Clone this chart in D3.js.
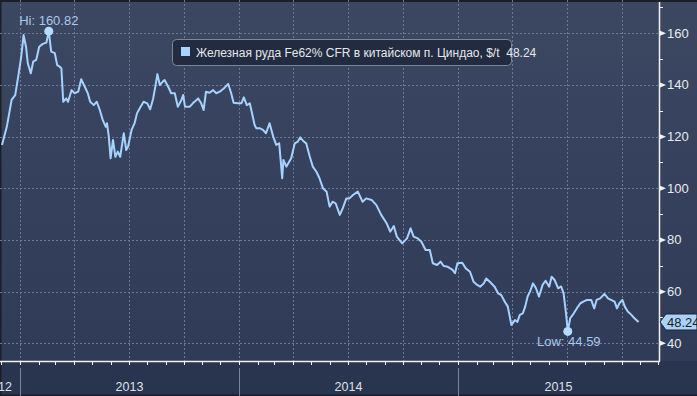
<!DOCTYPE html>
<html>
<head>
<meta charset="utf-8">
<script src="https://cdn.jsdelivr.net/npm/d3@7"></script>
<style>
  html, body { margin: 0; padding: 0; background: #1b1f28; }
  #chart { width: 697px; height: 396px; }
  text { font-family: "Liberation Sans", Arial, sans-serif; }
</style>
</head>
<body>
<div id="chart"></div>
<script>
// iron ore Fe62% CFR Qingdao, $/t
var dates = ["2012-12-02","2012-12-10","2012-12-18","2012-12-24","2012-12-29","2013-01-03","2013-01-07","2013-01-11","2013-01-14","2013-01-19",
  "2013-01-23","2013-01-28","2013-02-02","2013-02-08","2013-02-14","2013-02-18","2013-02-22","2013-02-28","2013-03-04","2013-03-08",
  "2013-03-11","2013-03-14","2013-03-19","2013-03-22","2013-03-28","2013-04-02","2013-04-08","2013-04-13","2013-04-19","2013-04-24",
  "2013-04-28","2013-05-04","2013-05-09","2013-05-14","2013-05-19","2013-05-24","2013-05-26","2013-05-29","2013-06-01","2013-06-05",
  "2013-06-09","2013-06-13","2013-06-17","2013-06-23","2013-06-27","2013-06-30","2013-07-06","2013-07-11","2013-07-15","2013-07-21",
  "2013-07-26","2013-08-01","2013-08-06","2013-08-11","2013-08-15","2013-08-18","2013-08-22","2013-08-27","2013-08-30","2013-09-05",
  "2013-09-10","2013-09-16","2013-09-21","2013-09-27","2013-09-30","2013-10-03","2013-10-11","2013-10-16","2013-10-25","2013-10-30",
  "2013-11-03","2013-11-07","2013-11-13","2013-11-19","2013-11-24","2013-11-30","2013-12-07","2013-12-14","2013-12-19","2013-12-23",
  "2013-12-30","2014-01-05","2014-01-09","2014-01-14","2014-01-19","2014-01-24","2014-01-27","2014-01-30","2014-02-05","2014-02-10",
  "2014-02-15","2014-02-21","2014-02-27","2014-03-04","2014-03-09","2014-03-14","2014-03-16","2014-03-21","2014-03-29","2014-04-04",
  "2014-04-09","2014-04-13","2014-04-19","2014-04-23","2014-04-29","2014-05-04","2014-05-10","2014-05-15","2014-05-21","2014-05-27",
  "2014-06-01","2014-06-06","2014-06-11","2014-06-18","2014-06-23","2014-06-29","2014-07-04","2014-07-10","2014-07-18","2014-07-26",
  "2014-08-01","2014-08-10","2014-08-18","2014-08-26","2014-09-04","2014-09-10","2014-09-16","2014-09-21","2014-09-30","2014-10-08",
  "2014-10-14","2014-10-19","2014-10-26","2014-11-01","2014-11-08","2014-11-15","2014-11-20","2014-11-27","2014-12-03","2014-12-08",
  "2014-12-15","2014-12-23","2014-12-27","2014-12-31","2015-01-08","2015-01-14","2015-01-21","2015-01-27","2015-02-02","2015-02-07",
  "2015-02-13","2015-02-17","2015-02-23","2015-03-03","2015-03-09","2015-03-14","2015-03-20","2015-03-25","2015-03-31","2015-04-06",
  "2015-04-10","2015-04-14","2015-04-19","2015-04-23","2015-04-27","2015-05-01","2015-05-06","2015-05-11","2015-05-16","2015-05-22",
  "2015-05-27","2015-06-02","2015-06-06","2015-06-11","2015-06-17","2015-06-22","2015-06-26","2015-06-30","2015-07-03","2015-07-07",
  "2015-07-13","2015-07-18","2015-07-24","2015-07-29","2015-08-04","2015-08-11","2015-08-16","2015-08-20","2015-08-26","2015-09-02",
  "2015-09-08","2015-09-13","2015-09-19","2015-09-23","2015-09-27","2015-10-02","2015-10-06","2015-10-11","2015-10-17","2015-10-22",
  "2015-10-29"];
var prices = [116.8,123.8,134.2,136.1,143.2,150.9,159.3,154.8,148.4,144.5,
  149.0,149.7,154.8,155.9,156.4,160.82,152.9,152.3,147.7,147.1,
  146.5,133.5,134.8,133.5,138.0,136.8,137.4,142.2,139.3,136.8,
  133.5,132.2,133.5,130.3,126.4,123.8,125.2,120.0,111.6,118.7,
  112.2,114.2,112.2,121.3,114.8,116.1,122.6,125.2,129.0,131.6,
  133.5,132.9,130.6,134.8,140.0,144.2,140.0,141.3,141.9,139.3,
  136.8,136.8,131.6,134.2,136.1,131.6,131.6,132.9,134.8,132.9,
  130.3,137.4,137.0,138.0,136.8,137.4,138.7,140.4,136.8,133.1,
  132.9,132.9,135.2,132.2,132.9,127.7,124.5,123.2,123.2,122.6,
  121.3,125.2,120.0,116.8,117.4,103.9,111.0,108.4,111.6,117.4,
  118.1,119.7,118.1,117.4,112.2,108.4,106.4,104.0,100.0,98.7,
  92.9,94.8,94.2,89.7,92.3,96.1,96.1,97.4,98.7,94.8,
  96.1,95.5,93.5,89.7,86.5,83.2,85.4,81.3,78.7,80.6,
  84.5,81.3,80.6,79.3,76.1,76.1,71.0,70.3,71.6,69.9,
  69.6,68.4,67.1,71.0,71.2,69.0,67.7,63.8,62.6,61.9,
  63.2,65.1,63.8,61.9,59.3,58.7,56.1,54.2,47.1,49.0,
  48.3,51.0,51.6,54.2,58.1,60.0,63.2,61.3,58.1,62.6,
  64.2,61.9,65.8,64.5,61.3,62.0,59.3,51.6,44.59,49.7,
  51.6,53.5,55.5,56.1,56.8,56.8,53.5,56.8,57.4,59.1,
  57.4,56.8,56.1,53.5,55.5,56.8,54.2,52.3,51.0,49.7,
  48.24];
var yTicks = [40, 60, 80, 100, 120, 140, 160];
var yMinorTicks = [50, 70, 90, 110, 130, 150, 170];
var years = ["2012", "2013", "2014", "2015"];
var seriesName = "Железная руда Fe62% CFR в китайском п. Циндао, $/t";
var lastValue = "48.24";
var hiLabel = "Hi: 160.82";
var lowLabel = "Low: 44.59";

var width = 697, height = 396;
var axisX = 659, axisY = 361;

var parse = d3.timeParse("%Y-%m-%d");
var data = dates.map(function(d, i) { return {date: parse(d), value: prices[i]}; });

var x = d3.scaleTime()
  .domain([parse("2013-01-01"), parse("2015-01-01")])
  .range([20, 458]);
var y = d3.scaleLinear()
  .domain([40, 160])
  .range([343.3, 33.3]);

var svg = d3.select("#chart").append("svg")
  .attr("width", width)
  .attr("height", height);

var defs = svg.append("defs");
var grad = defs.append("linearGradient")
  .attr("id", "bg").attr("x1", 0).attr("y1", 0).attr("x2", 0).attr("y2", 1);
grad.append("stop").attr("offset", "0%").attr("stop-color", "#3c4762");
grad.append("stop").attr("offset", "100%").attr("stop-color", "#2f3b57");
defs.append("clipPath").attr("id", "plotclip")
  .append("rect").attr("x", 0).attr("y", 0).attr("width", axisX).attr("height", axisY);

// background
svg.append("rect")
  .attr("width", width).attr("height", height)
  .style("fill", "#29344f");
svg.append("rect")
  .attr("x", 0).attr("y", 0)
  .attr("width", width).attr("height", axisY)
  .style("fill", "url(#bg)");
// thin dark frame on top / left
svg.append("rect").attr("x", 0).attr("y", 0).attr("width", width).attr("height", 2).style("fill", "#1c1f26");
svg.append("rect").attr("x", 0).attr("y", 0).attr("width", 1.5).attr("height", height).style("fill", "#1c1f26");
svg.append("rect").attr("x", 0).attr("y", height - 1.5).attr("width", width).attr("height", 1.5).style("fill", "#1c1f26");

// grid
var grid = svg.append("g").attr("clip-path", "url(#plotclip)");
grid.selectAll("line.h")
  .data(yTicks)
  .enter().append("line")
  .attr("x1", 0).attr("x2", axisX)
  .attr("y1", function(d) { return Math.round(y(d)) + 0.5; })
  .attr("y2", function(d) { return Math.round(y(d)) + 0.5; })
  .style("stroke", "#6d7893")
  .style("stroke-width", 1)
  .style("stroke-dasharray", "2,2");

var quarters = d3.timeMonth.every(3).range(x.invert(0), x.invert(axisX));
grid.selectAll("line.v")
  .data(quarters)
  .enter().append("line")
  .attr("x1", function(d) { return Math.round(x(d)) + 0.5; })
  .attr("x2", function(d) { return Math.round(x(d)) + 0.5; })
  .attr("y1", 0).attr("y2", axisY)
  .style("stroke", "#6d7893")
  .style("stroke-width", 1)
  .style("stroke-dasharray", "2,2");

// legend box
svg.append("rect")
  .attr("x", 172.5).attr("y", 39.5)
  .attr("width", 339).attr("height", 26)
  .attr("rx", 4)
  .style("fill", "#222b3f")
  .style("stroke", "#7c8799")
  .style("stroke-width", 1);
svg.append("rect")
  .attr("x", 181).attr("y", 47)
  .attr("width", 9).attr("height", 9)
  .style("fill", "#a9d3ff");
svg.append("text")
  .attr("x", 196).attr("y", 56.5)
  .text(seriesName + "  " + lastValue)
  .style("font-size", "12px")
  .style("fill", "#e6e8ec")
  .style("white-space", "pre");

// price line
var line = d3.line()
  .x(function(d) { return x(d.date); })
  .y(function(d) { return y(d.value); });
svg.append("path")
  .datum(data)
  .attr("clip-path", "url(#plotclip)")
  .attr("d", line)
  .style("fill", "none")
  .style("stroke", "#a6d2ff")
  .style("stroke-width", 2)
  .style("stroke-linejoin", "round");

// hi / low markers
var hi = data[d3.maxIndex(data, function(d) { return d.value; })];
var lo = data[d3.minIndex(data, function(d) { return d.value; })];
svg.append("circle")
  .attr("cx", x(hi.date)).attr("cy", y(hi.value)).attr("r", 4.5)
  .style("fill", "#b5dbff");
svg.append("text")
  .attr("x", x(hi.date)).attr("y", y(hi.value) - 6)
  .attr("text-anchor", "middle")
  .text(hiLabel)
  .style("font-size", "13px")
  .style("fill", "#a9c9ea");
svg.append("circle")
  .attr("cx", x(lo.date)).attr("cy", y(lo.value)).attr("r", 4.5)
  .style("fill", "#b5dbff");
svg.append("text")
  .attr("x", x(lo.date) + 1).attr("y", y(lo.value) + 15)
  .attr("text-anchor", "middle")
  .text(lowLabel)
  .style("font-size", "13px")
  .style("fill", "#a9c9ea");

// right axis
svg.append("line")
  .attr("x1", axisX + 0.5).attr("x2", axisX + 0.5)
  .attr("y1", 2).attr("y2", axisY + 0.5)
  .style("stroke", "#f2f2f2").style("stroke-width", 1.5);
svg.selectAll("line.minor")
  .data(yMinorTicks)
  .enter().append("line")
  .attr("x1", axisX).attr("x2", axisX + 4)
  .attr("y1", function(d) { return Math.round(y(d)) + 0.5; })
  .attr("y2", function(d) { return Math.round(y(d)) + 0.5; })
  .style("stroke", "#f2f2f2").style("stroke-width", 1);
svg.selectAll("polygon.major")
  .data(yTicks)
  .enter().append("polygon")
  .attr("points", function(d) {
    var yy = y(d);
    return axisX + "," + (yy - 3) + " " + (axisX + 7) + "," + yy + " " + axisX + "," + (yy + 3);
  })
  .style("fill", "#f2f2f2");
svg.selectAll("text.ylab")
  .data(yTicks)
  .enter().append("text")
  .attr("x", axisX + 8)
  .attr("y", function(d) { return y(d) + 4.5; })
  .text(function(d) { return d; })
  .style("font-size", "13px")
  .style("fill", "#e9ebef");

// last value tag
var ly = y(prices[prices.length - 1]);
svg.append("polygon")
  .attr("points", (axisX + 1) + "," + ly + " " + (axisX + 7) + "," + (ly - 8) + " " + width + "," + (ly - 8) + " " +
    width + "," + (ly + 8) + " " + (axisX + 7) + "," + (ly + 8))
  .style("fill", "#a9d3fb")
  .style("stroke", "#1d2434")
  .style("stroke-width", 1);
svg.append("text")
  .attr("x", axisX + 8).attr("y", ly + 4.5)
  .text(lastValue)
  .style("font-size", "13px")
  .style("fill", "#1a1d24");

// bottom axis
svg.append("line")
  .attr("x1", 0).attr("x2", axisX + 1)
  .attr("y1", axisY + 0.5).attr("y2", axisY + 0.5)
  .style("stroke", "#f2f2f2").style("stroke-width", 1.5);
var months = d3.timeMonth.range(x.invert(0), x.invert(axisX));
svg.selectAll("line.mtick")
  .data(months)
  .enter().append("line")
  .attr("x1", function(d) { return Math.round(x(d)) + 0.5; })
  .attr("x2", function(d) { return Math.round(x(d)) + 0.5; })
  .attr("y1", axisY).attr("y2", axisY + 4)
  .style("stroke", "#f2f2f2").style("stroke-width", 1);

// year bands
var yearStarts = years.map(function(yr) { return parse(yr + "-01-01"); });
svg.selectAll("line.ysep")
  .data(yearStarts.slice(1))
  .enter().append("line")
  .attr("x1", function(d) { return Math.round(x(d)) + 0.5; })
  .attr("x2", function(d) { return Math.round(x(d)) + 0.5; })
  .attr("y1", 368).attr("y2", height)
  .style("stroke", "#7a849a").style("stroke-width", 1);
svg.selectAll("text.year")
  .data(years)
  .enter().append("text")
  .attr("x", function(d, i) {
    var a = Math.max(0, x(yearStarts[i]));
    var b = Math.min(axisX, x(parse((+d + 1) + "-01-01")));
    return i === 0 ? b - 8 : (a + b) / 2;
  })
  .attr("y", 391)
  .attr("text-anchor", function(d, i) { return i === 0 ? "end" : "middle"; })
  .text(function(d) { return d; })
  .style("font-size", "12.5px")
  .style("fill", "#dfe2e8");
</script>
</body>
</html>
